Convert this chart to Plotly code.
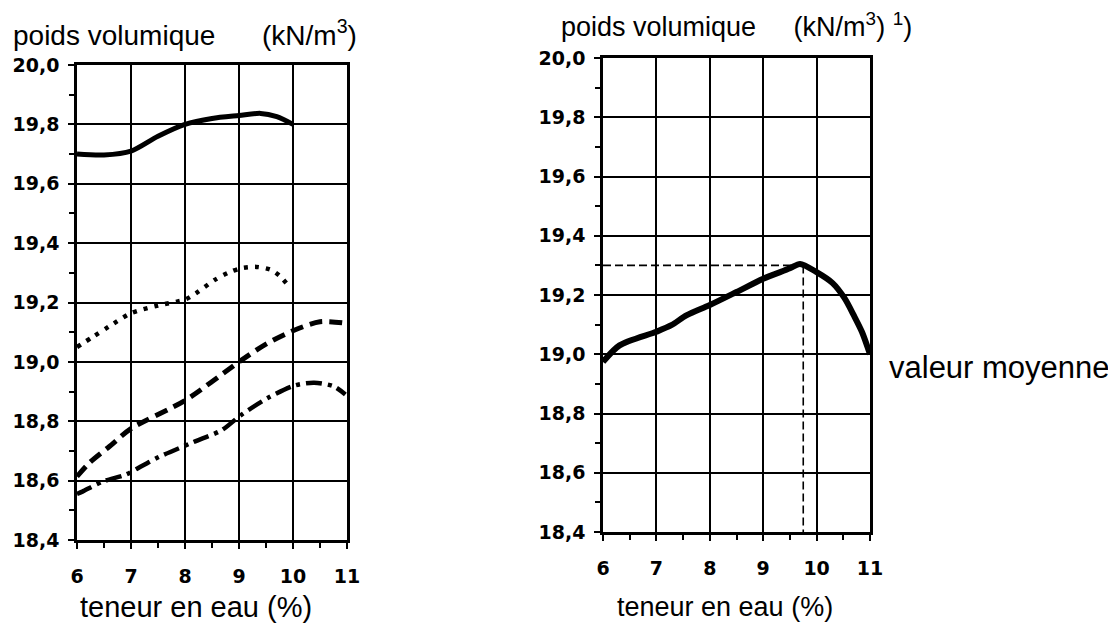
import plotly.graph_objects as go

# ---------------- data ----------------
x_ticks = [6, 7, 8, 9, 10, 11]
x_tick_labels = ["6", "7", "8", "9", "10", "11"]
y_ticks = [18.4, 18.6, 18.8, 19.0, 19.2, 19.4, 19.6, 19.8, 20.0]
y_tick_labels = ["18,4", "18,6", "18,8", "19,0", "19,2", "19,4", "19,6", "19,8", "20,0"]

# left chart: four curves
solid_x = [6, 6.5, 7, 7.5, 8, 8.5, 9, 9.4, 9.7, 10]
solid_y = [19.70, 19.697, 19.71, 19.76, 19.80, 19.82, 19.83, 19.837, 19.826, 19.80]

dot_x = [6, 6.3, 6.6, 7, 7.5, 8, 8.2, 8.55, 8.8, 9.03, 9.32, 9.59, 9.75, 9.9]
dot_y = [19.05, 19.085, 19.12, 19.164, 19.19, 19.21, 19.231, 19.276, 19.30, 19.315, 19.32, 19.31, 19.29, 19.26]

dash_x = [6, 6.23, 6.6, 7, 8, 9, 9.5, 10, 10.5, 11]
dash_y = [18.614, 18.66, 18.715, 18.775, 18.87, 19.0, 19.06, 19.105, 19.135, 19.13]

dashdot_x = [6, 6.1, 6.48, 6.9, 7.21, 7.52, 8.16, 8.68, 9.03, 9.53, 10.02, 10.39, 10.76, 10.97]
dashdot_y = [18.555, 18.563, 18.597, 18.62, 18.65, 18.68, 18.73, 18.77, 18.82, 18.878, 18.92, 18.93, 18.917, 18.89]

# right chart: mean value curve
mean_x = [6, 6.31, 7, 7.28, 7.57, 8, 8.5, 9, 9.5, 9.69, 10, 10.3, 10.52, 10.7, 10.85, 11]
mean_y = [18.974, 19.03, 19.076, 19.098, 19.132, 19.166, 19.21, 19.255, 19.29, 19.305, 19.277, 19.24, 19.19, 19.13, 19.075, 19.0]

# optimum read-off (guide lines)
opt_x = [9.75]
opt_y = [19.3]

# ---------------- layout helpers ----------------
OFF = 8                      # page body margin
W, H = 1116 - OFF, 629 - OFF
TEXT_FONT = "Liberation Sans, Arial, sans-serif"
TICK_FONT = dict(family="DejaVu Sans", size=19, color="black", weight="bold")


def px_x(p):
    return (p - OFF) / W


def px_y(p):
    return 1 - (p - OFF) / H


fig = go.Figure()

fig.add_trace(go.Scatter(x=solid_x, y=solid_y, mode="lines", xaxis="x", yaxis="y",
                         line=dict(color="black", width=5, shape="spline", smoothing=0.8)))
fig.add_trace(go.Scatter(x=dot_x, y=dot_y, mode="lines", xaxis="x", yaxis="y",
                         line=dict(color="black", width=4.5, dash="4px,7px", shape="spline", smoothing=0.8)))
fig.add_trace(go.Scatter(x=dash_x, y=dash_y, mode="lines", xaxis="x", yaxis="y",
                         line=dict(color="black", width=5, dash="13px,7px", shape="spline", smoothing=0.8)))
fig.add_trace(go.Scatter(x=dashdot_x, y=dashdot_y, mode="lines", xaxis="x", yaxis="y",
                         line=dict(color="black", width=4.5, dash="16px,6px,4px,6px", shape="spline", smoothing=0.8)))

# guide lines on the right chart
fig.add_trace(go.Scatter(x=[x_ticks[0], opt_x[0]], y=[opt_y[0], opt_y[0]], mode="lines",
                         xaxis="x2", yaxis="y2",
                         line=dict(color="black", width=1.6, dash="8px,4px")))
fig.add_trace(go.Scatter(x=[opt_x[0], opt_x[0]], y=[opt_y[0], y_ticks[0]], mode="lines",
                         xaxis="x2", yaxis="y2",
                         line=dict(color="black", width=1.6, dash="8px,4px")))
fig.add_trace(go.Scatter(x=mean_x, y=mean_y, mode="lines", xaxis="x2", yaxis="y2",
                         line=dict(color="black", width=6, shape="spline", smoothing=0.8)))


def xaxis_cfg(domain, anchor):
    return dict(
        domain=domain, range=[6, 11], tickvals=x_ticks, ticktext=x_tick_labels,
        anchor=anchor, automargin=False,
        showgrid=True, gridcolor="black", gridwidth=2.2,
        showline=True, linecolor="black", linewidth=2.6, mirror=True,
        ticks="outside", ticklen=6, tickwidth=2, tickcolor="black",
        minor=dict(dtick=0.5, tick0=6, ticks="outside", ticklen=5, tickwidth=2,
                   tickcolor="black", showgrid=False),
        tickfont=TICK_FONT, ticklabelstandoff=11, zeroline=False, fixedrange=True,
    )


def yaxis_cfg(domain, anchor):
    return dict(
        domain=domain, range=[18.4, 20.0], tickvals=y_ticks, ticktext=y_tick_labels,
        anchor=anchor, automargin=False,
        showgrid=True, gridcolor="black", gridwidth=2.2,
        showline=True, linecolor="black", linewidth=2.6, mirror=True,
        ticks="outside", ticklen=6, tickwidth=2, tickcolor="black",
        minor=dict(dtick=0.1, tick0=18.4, ticks="outside", ticklen=5, tickwidth=2,
                   tickcolor="black", showgrid=False),
        tickfont=TICK_FONT, ticklabelstandoff=5, zeroline=False, fixedrange=True,
    )


annotations = [
    dict(text="poids volumique&#160;&#160;&#160;&#160;&#160;&#160;(kN/m<sup>3</sup>)",
         x=px_x(11), y=px_y(33), xanchor="left", yanchor="middle",
         font=dict(family=TEXT_FONT, size=28, color="black")),
    dict(text="poids volumique&#160;&#160;&#160;&#160;&#160;(kN/m<sup>3</sup>) <sup>1</sup>)",
         x=px_x(559), y=px_y(25), xanchor="left", yanchor="middle",
         font=dict(family=TEXT_FONT, size=27, color="black")),
    dict(text="teneur en eau (%)", x=px_x(196), y=px_y(607), xanchor="center", yanchor="middle",
         font=dict(family=TEXT_FONT, size=29, color="black")),
    dict(text="teneur en eau (%)", x=px_x(725), y=px_y(607), xanchor="center", yanchor="middle",
         font=dict(family=TEXT_FONT, size=27, color="black")),
    dict(text="valeur moyenne", x=px_x(887), y=px_y(367), xanchor="left", yanchor="middle",
         font=dict(family=TEXT_FONT, size=31, color="black")),
]
for a in annotations:
    a.update(xref="paper", yref="paper", showarrow=False)

fig.update_layout(
    width=W, height=H,
    margin=dict(l=0, r=0, t=0, b=0, autoexpand=False),
    paper_bgcolor="white", plot_bgcolor="white",
    showlegend=False,
    xaxis=xaxis_cfg([px_x(77), px_x(347)], "y"),
    yaxis=yaxis_cfg([px_y(540), px_y(65)], "x"),
    xaxis2=xaxis_cfg([px_x(603), px_x(870)], "y2"),
    yaxis2=yaxis_cfg([px_y(532), px_y(58)], "x2"),
    annotations=annotations,
)

fig.write_html("out.html")
